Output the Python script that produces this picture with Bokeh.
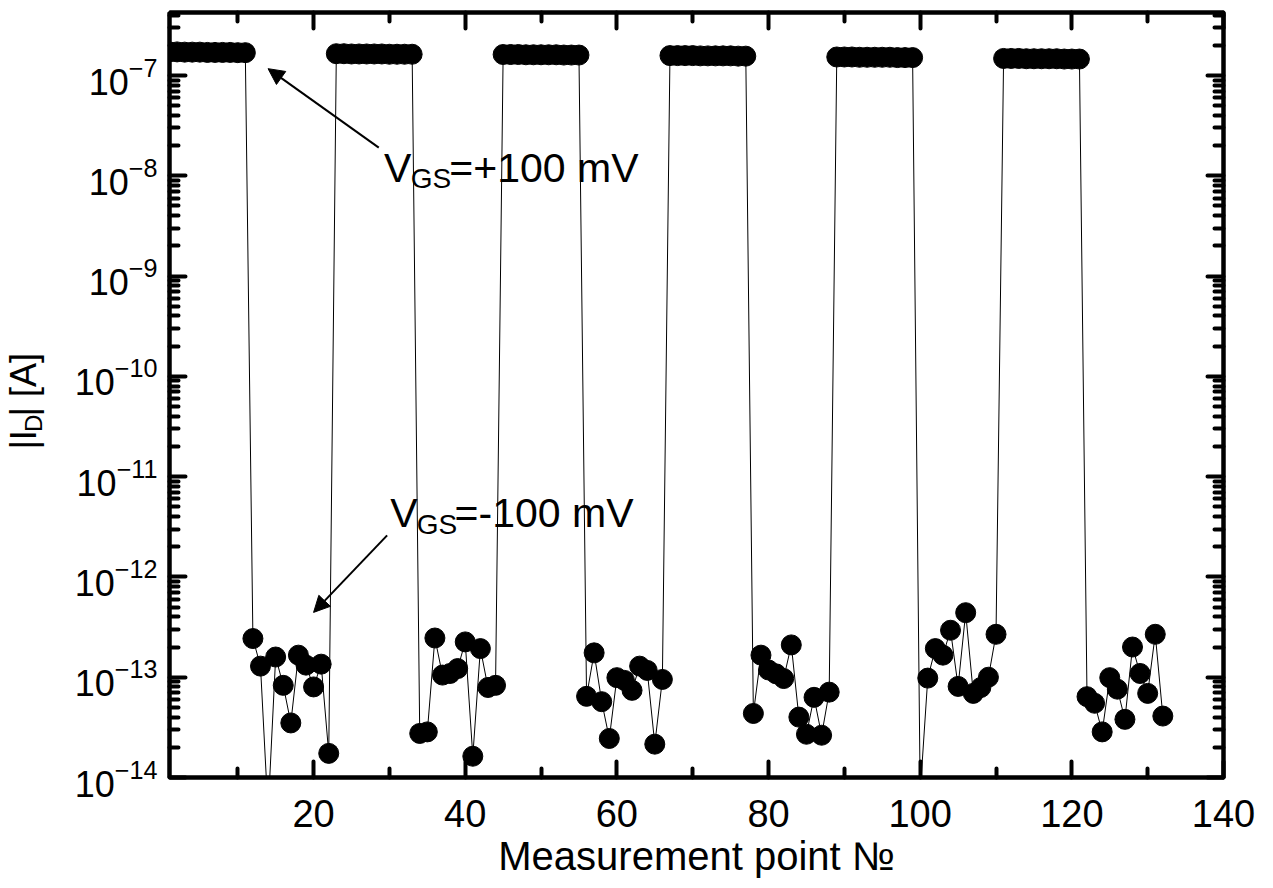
import math
from bokeh.plotting import figure
from bokeh.layouts import row
from bokeh.models import (LinearAxis, LogAxis, FixedTicker, Range1d, Label, Arrow,
                          NormalHead, ColumnDataSource, CustomJSTickFormatter)
from bokeh.embed import file_html
from bokeh.resources import INLINE

# ---------------- data ----------------
point_no = list(range(1, 133))

on_1 = [1.72e-7, 1.72e-7, 1.71e-7, 1.71e-7, 1.71e-7, 1.70e-7, 1.70e-7, 1.70e-7, 1.70e-7, 1.69e-7, 1.69e-7]
off_1 = [2.43e-13, 1.29e-13, 4.5e-15, 1.59e-13, 8.3e-14, 3.5e-14, 1.66e-13, 1.32e-13, 8.0e-14, 1.35e-13, 1.74e-14]
on_2 = [1.65e-7, 1.65e-7, 1.64e-7, 1.64e-7, 1.64e-7, 1.64e-7, 1.64e-7, 1.63e-7, 1.63e-7, 1.63e-7, 1.63e-7]
off_2 = [2.75e-14, 2.85e-14, 2.46e-13, 1.05e-13, 1.09e-13, 1.22e-13, 2.25e-13, 1.63e-14, 1.93e-13, 7.9e-14, 8.3e-14]
on_3 = [1.62e-7, 1.62e-7, 1.62e-7, 1.61e-7, 1.61e-7, 1.61e-7, 1.61e-7, 1.61e-7, 1.60e-7, 1.60e-7, 1.60e-7]
off_3 = [6.45e-14, 1.75e-13, 5.7e-14, 2.45e-14, 9.9e-14, 9.3e-14, 7.4e-14, 1.29e-13, 1.17e-13, 2.15e-14, 9.5e-14]
on_4 = [1.58e-7, 1.58e-7, 1.58e-7, 1.58e-7, 1.57e-7, 1.57e-7, 1.57e-7, 1.57e-7, 1.57e-7, 1.56e-7, 1.56e-7]
off_4 = [4.35e-14, 1.66e-13, 1.18e-13, 1.08e-13, 9.7e-14, 2.1e-13, 4.0e-14, 2.7e-14, 6.3e-14, 2.64e-14, 7.1e-14]
on_5 = [1.53e-7, 1.53e-7, 1.53e-7, 1.52e-7, 1.52e-7, 1.52e-7, 1.52e-7, 1.52e-7, 1.51e-7, 1.51e-7, 1.51e-7]
off_5 = [7.0e-15, 9.8e-14, 1.93e-13, 1.66e-13, 2.94e-13, 8.1e-14, 4.4e-13, 6.9e-14, 7.9e-14, 1.0e-13, 2.68e-13]
on_6 = [1.48e-7, 1.48e-7, 1.48e-7, 1.47e-7, 1.47e-7, 1.47e-7, 1.47e-7, 1.47e-7, 1.46e-7, 1.46e-7, 1.46e-7]
off_6 = [6.4e-14, 5.5e-14, 2.85e-14, 9.9e-14, 7.6e-14, 3.8e-14, 2.0e-13, 1.09e-13, 6.9e-14, 2.68e-13, 4.1e-14]

drain_current = on_1 + off_1 + on_2 + off_2 + on_3 + off_3 + on_4 + off_4 + on_5 + off_5 + on_6 + off_6

x_major_ticks = [20, 40, 60, 80, 100, 120, 140]
x_minor_ticks = [10, 30, 50, 70, 90, 110, 130]
y_major_ticks = [1e-14, 1e-13, 1e-12, 1e-11, 1e-10, 1e-9, 1e-8, 1e-7]
y_minor_ticks = [m * 10.0 ** e for e in range(-14, -6) for m in range(2, 10) if m * 10.0 ** e < 4.3e-7]

x_title = "Measurement point №"
y_title = ("|I", "D", "| [A]")
label_on = ("V", "GS", "=+100 mV")
label_off = ("V", "GS", "=-100 mV")

TITLE_W = 70
TOTAL_H = 888

# ---------------- main figure ----------------
src = ColumnDataSource(dict(x=point_no, y=drain_current))

p = figure(frame_width=1054, frame_height=765,
           x_range=Range1d(1, 140), y_range=Range1d(1e-14, 4.25e-7),
           y_axis_type="log", output_backend="svg", toolbar_location=None,
           min_border_left=169 - TITLE_W, min_border_right=42, min_border_top=12, min_border_bottom=100,
           background_fill_color="white", border_fill_color="white")
p.outline_line_color = "black"
p.outline_line_width = 4
p.xgrid.visible = False
p.ygrid.visible = False

p.line("x", "y", source=src, line_color="black", line_width=1)
p.scatter("x", "y", source=src, size=20, fill_color="black", line_color="black")

bottom = p.below[0]
left = p.left[0]
top = LinearAxis()
right = LogAxis()
p.add_layout(top, "above")
p.add_layout(right, "right")

bottom.ticker = FixedTicker(ticks=x_major_ticks, minor_ticks=x_minor_ticks)
top.ticker = FixedTicker(ticks=x_major_ticks, minor_ticks=x_minor_ticks)
left.ticker = FixedTicker(ticks=y_major_ticks, minor_ticks=y_minor_ticks)
right.ticker = FixedTicker(ticks=y_major_ticks, minor_ticks=y_minor_ticks)

for ax in [bottom, top, left, right]:
    ax.axis_line_width = 4
    ax.axis_line_color = "black"
    ax.major_tick_in = 16
    ax.major_tick_out = 0
    ax.minor_tick_in = 9
    ax.minor_tick_out = 0
    ax.major_tick_line_width = 4
    ax.minor_tick_line_width = 4
    ax.major_tick_line_cap = "round"
    ax.minor_tick_line_cap = "round"
    ax.major_tick_line_color = "black"
    ax.minor_tick_line_color = "black"

for ax in [top, right]:
    ax.formatter = CustomJSTickFormatter(code="return ''")
    ax.major_label_text_font_size = "2px"
    ax.major_label_standoff = 0

bottom.major_label_text_font = "Liberation Sans"
bottom.major_label_text_font_size = "38px"
bottom.major_label_text_color = "black"
bottom.major_label_standoff = 22
bottom.axis_label = x_title
bottom.axis_label_text_font = "Liberation Sans"
bottom.axis_label_text_font_size = "40px"
bottom.axis_label_text_font_style = "normal"
bottom.axis_label_text_color = "black"
bottom.axis_label_standoff = 4

left.major_label_text_font = "Liberation Sans"
left.major_label_text_font_size = "36px"
left.major_label_text_color = "black"
left.major_label_standoff = 12

# ---------------- annotations ----------------
ann_font = "Liberation Sans"

def vgs_label(x0, xs, xr, yc, ys, parts):
    p.add_layout(Label(x=x0, y=yc, text=parts[0], text_font=ann_font, text_font_size="41px",
                       text_color="black", text_baseline="middle", text_align="left"))
    p.add_layout(Label(x=xs, y=ys, text=parts[1], text_font=ann_font, text_font_size="28px",
                       text_color="black", text_baseline="middle", text_align="left"))
    p.add_layout(Label(x=xr, y=yc, text=parts[2], text_font=ann_font, text_font_size="41px",
                       text_color="black", text_baseline="middle", text_align="left"))

vgs_label(29.3, 32.8, 37.9, 1.20e-8, 9.3e-9, label_on)
vgs_label(30.1, 33.6, 38.6, 4.3e-12, 3.3e-12, label_off)

p.add_layout(Arrow(end=NormalHead(size=16, fill_color="black", line_color="black"),
                   x_start=28.6, y_start=1.91e-8, x_end=14.0, y_end=1.17e-7,
                   line_color="black", line_width=2))
p.add_layout(Arrow(end=NormalHead(size=16, fill_color="black", line_color="black"),
                   x_start=29.7, y_start=2.6e-12, x_end=20.0, y_end=4.43e-13,
                   line_color="black", line_width=2))

# ---------------- y axis title |I_D| [A] in its own narrow strip ----------------
tf = figure(width=TITLE_W, height=TOTAL_H, x_range=Range1d(0, TITLE_W), y_range=Range1d(0, TOTAL_H),
            x_axis_type=None, y_axis_type=None, output_backend="svg", toolbar_location=None,
            min_border=0, background_fill_color="white", border_fill_color="white")
tf.outline_line_color = None
tf.grid.visible = False

yt_font = "Liberation Sans"
tf.add_layout(Label(x=23, y=386, text=y_title[0], angle=math.pi / 2, angle_units="rad",
                    text_font=yt_font, text_font_size="36px", text_color="black",
                    text_baseline="middle", text_align="left"))
tf.add_layout(Label(x=33, y=406, text=y_title[1], angle=math.pi / 2, angle_units="rad",
                    text_font=yt_font, text_font_size="24px", text_color="black",
                    text_baseline="middle", text_align="left"))
tf.add_layout(Label(x=23, y=424, text=y_title[2], angle=math.pi / 2, angle_units="rad",
                    text_font=yt_font, text_font_size="36px", text_color="black",
                    text_baseline="middle", text_align="left"))

layout = row(tf, p)
open("out.html", "w").write(file_html(layout, INLINE))
